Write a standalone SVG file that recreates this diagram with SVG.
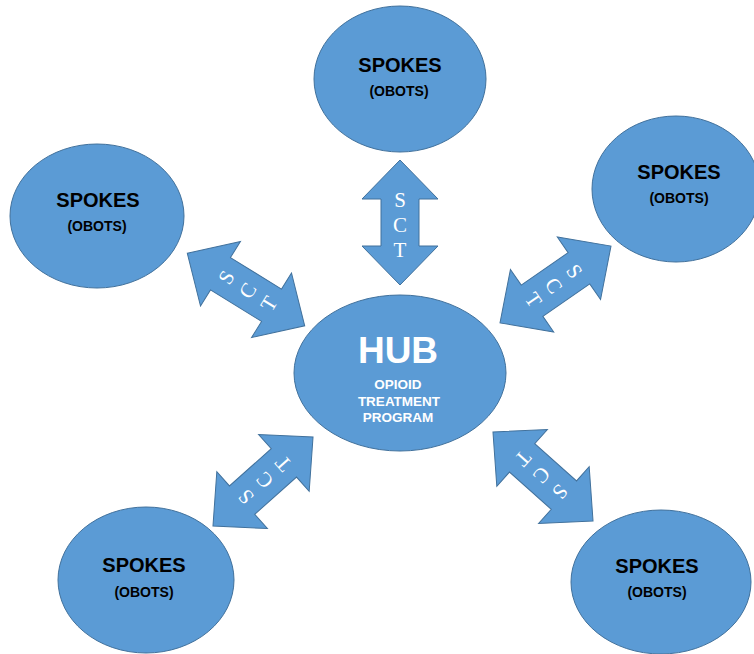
<svg xmlns="http://www.w3.org/2000/svg" width="754" height="654" viewBox="0 0 754 654">
<style>
.node{fill:#5B9BD5;stroke:#41719C;stroke-width:1}
.arr{fill:#5B9BD5;stroke:#41719C;stroke-width:1}
.t1{font-family:"Liberation Sans",Arial,sans-serif;font-weight:bold;font-size:20px;fill:#000;text-anchor:middle}
.t2{font-family:"Liberation Sans",Arial,sans-serif;font-weight:bold;font-size:14px;fill:#000;text-anchor:middle}
.hub{font-family:"Liberation Sans",Arial,sans-serif;font-weight:bold;font-size:37px;fill:#fff;text-anchor:middle}
.hubs{font-family:"Liberation Sans",Arial,sans-serif;font-weight:bold;font-size:13.5px;fill:#fff;text-anchor:middle}
.sct{font-family:"Liberation Serif","Times New Roman",serif;font-size:21px;fill:#fff;text-anchor:middle}
</style>
<rect width="754" height="654" fill="#fff"/>
<g id="connectors">
  <g id="arrow-top" transform="translate(400,222.5)">
    <polygon class="arr" points="0,-62.5 38,-23.5 19,-23.5 19,23.5 38,23.5 0,62.5 -38,23.5 -19,23.5 -19,-23.5 -38,-23.5"/>
    <text class="sct" x="0" y="-16">S</text>
    <text class="sct" x="0" y="9">C</text>
    <text class="sct" x="0" y="34">T</text>
  </g>
  <g id="arrow-ul" transform="translate(246,289.5) rotate(-58.3)">
    <polygon class="arr" points="0,-69 38,-30 19,-30 19,30 38,30 0,69 -38,30 -19,30 -19,-30 -38,-30"/>
    <text class="sct" x="0" y="-16">S</text>
    <text class="sct" x="0" y="9">C</text>
    <text class="sct" x="0" y="34">T</text>
  </g>
  <g id="arrow-ur" transform="translate(555.5,284.5) rotate(55.3)">
    <polygon class="arr" points="0,-67.5 38,-28.5 19,-28.5 19,28.5 38,28.5 0,67.5 -38,28.5 -19,28.5 -19,-28.5 -38,-28.5"/>
    <text class="sct" x="0" y="-16">S</text>
    <text class="sct" x="0" y="9">C</text>
    <text class="sct" x="0" y="34">T</text>
  </g>
  <g id="arrow-ll" transform="translate(263,481.5) rotate(-131.7)">
    <polygon class="arr" points="0,-67 38,-28 19,-28 19,28 38,28 0,67 -38,28 -19,28 -19,-28 -38,-28"/>
    <text class="sct" x="0" y="-16">S</text>
    <text class="sct" x="0" y="9">C</text>
    <text class="sct" x="0" y="34">T</text>
  </g>
  <g id="arrow-lr" transform="translate(543,476.5) rotate(131.7)">
    <polygon class="arr" points="0,-67 38,-28 19,-28 19,28 38,28 0,67 -38,28 -19,28 -19,-28 -38,-28"/>
    <text class="sct" x="0" y="-16">S</text>
    <text class="sct" x="0" y="9">C</text>
    <text class="sct" x="0" y="34">T</text>
  </g>
</g>
<g id="hub">
  <ellipse class="node" cx="400" cy="373" rx="106" ry="78"/>
  <text class="hub" x="398" y="363">HUB</text>
  <text class="hubs" x="398" y="389">OPIOID</text>
  <text class="hubs" x="399" y="406">TREATMENT</text>
  <text class="hubs" x="398" y="422">PROGRAM</text>
</g>
<g id="spoke-top">
  <ellipse class="node" cx="400" cy="79" rx="86" ry="73"/>
  <text class="t1" x="400" y="72">SPOKES</text>
  <text class="t2" x="399" y="96">(OBOTS)</text>
</g>
<g id="spoke-left">
  <ellipse class="node" cx="97" cy="216" rx="87" ry="72"/>
  <text class="t1" x="98" y="207">SPOKES</text>
  <text class="t2" x="97" y="231">(OBOTS)</text>
</g>
<g id="spoke-right">
  <ellipse class="node" cx="676" cy="189" rx="84" ry="73"/>
  <text class="t1" x="679" y="179">SPOKES</text>
  <text class="t2" x="679" y="203">(OBOTS)</text>
</g>
<g id="spoke-bottom-left">
  <ellipse class="node" cx="146" cy="580" rx="88" ry="73"/>
  <text class="t1" x="144" y="572">SPOKES</text>
  <text class="t2" x="144" y="597">(OBOTS)</text>
</g>
<g id="spoke-bottom-right">
  <ellipse class="node" cx="661" cy="582" rx="90" ry="72"/>
  <text class="t1" x="657" y="573">SPOKES</text>
  <text class="t2" x="657" y="597">(OBOTS)</text>
</g>
</svg>
